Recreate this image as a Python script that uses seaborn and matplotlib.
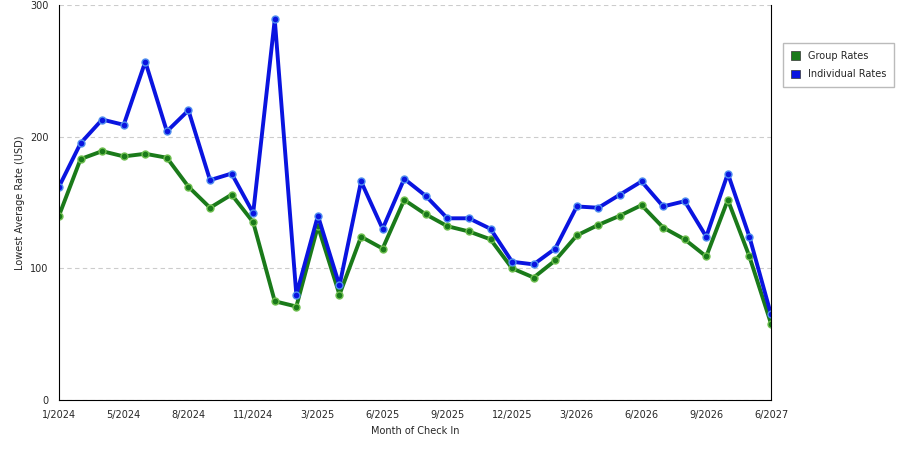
import matplotlib
matplotlib.use("Agg")
import matplotlib.pyplot as plt
import seaborn as sns
import pandas as pd

tick_labels = ["1/2024","5/2024","8/2024","11/2024","3/2025","6/2025","9/2025","12/2025","3/2026","6/2026","9/2026","6/2027"]
tick_idx = [0,3,6,9,12,15,18,21,24,27,30,33]
individual = [162,195,213,209,257,204,220,167,172,142,289,80,140,87,166,130,168,155,138,138,130,105,103,115,147,146,156,166,147,151,124,172,124,65]
group = [140,183,189,185,187,184,162,146,156,135,75,71,132,80,124,115,152,141,132,128,122,100,93,106,125,133,140,148,131,122,109,152,109,58]

sns.set_style("white")
plt.rcParams['font.family'] = ['DejaVu Sans']
fig = plt.figure(figsize=(9, 4.5), dpi=100)
ax = fig.add_axes([59/900, 50/450, 712/900, 395/450])

df = pd.DataFrame({"x": list(range(len(group)))*2,
                   "y": group + individual,
                   "s": ["Group Rates"]*len(group) + ["Individual Rates"]*len(individual)})
pal = {"Group Rates": "#1a7a1a", "Individual Rates": "#0a14e0"}
edge = {"Group Rates": "#6fbf4f", "Individual Rates": "#4f8fef"}
for name in ["Group Rates", "Individual Rates"]:
    d = df[df.s == name]
    sns.lineplot(data=d, x="x", y="y", ax=ax, color=pal[name], lw=2.8, label=name,
                 marker="o", markersize=5, markeredgecolor=edge[name], markeredgewidth=1)

ax.set_xlim(0, 33)
ax.set_ylim(0, 300)
ax.set_xticks(tick_idx)
ax.set_xticklabels(tick_labels, fontsize=7)
ax.set_yticks([0, 100, 200, 300])
ax.set_yticklabels(["0", "100", "200", "300"], fontsize=7)
ax.tick_params(axis="both", length=4, direction="out", color="black")
ax.yaxis.grid(True, ls=(0, (4, 3)), color="#cccccc", lw=0.8)
ax.set_xlabel("Month of Check In", fontsize=7)
ax.set_ylabel("Lowest Average Rate (USD)", fontsize=7)
for s in ["left", "bottom", "right"]:
    ax.spines[s].set_color("black"); ax.spines[s].set_linewidth(0.8)
ax.spines["top"].set_visible(False)

h = [plt.Rectangle((0, 0), 1, 1, fc=pal[n], ec="#333333", lw=0.5) for n in pal]
ax.legend(h, list(pal), loc="upper left", bbox_to_anchor=(778/712 - 59/712, 1 - 33/395),
          fontsize=7, frameon=True, edgecolor="#aaaaaa", fancybox=False,
          handlelength=1.0, handleheight=1.0, borderpad=0.8, labelspacing=0.9)
fig.savefig("out.png", dpi=100)
